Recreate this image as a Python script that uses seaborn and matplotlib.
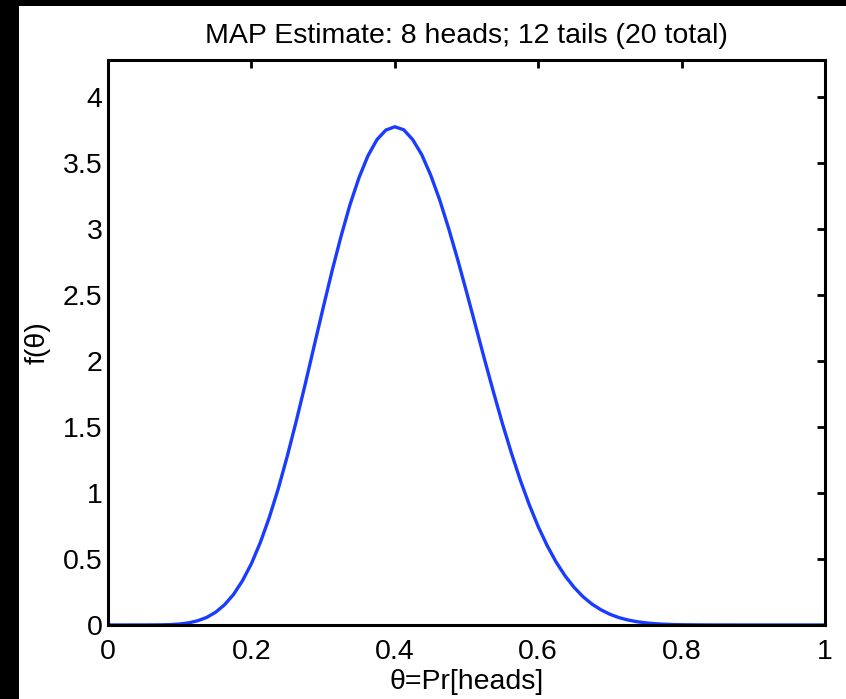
import pandas as pd
import seaborn as sns
import matplotlib.pyplot as plt
from matplotlib.patches import Rectangle

# values
theta = [0.0, 0.025, 0.05, 0.075, 0.0875, 0.1, 0.1125, 0.125, 0.1375, 0.15, 0.1625,
         0.175, 0.1875, 0.2, 0.2125, 0.225, 0.2375, 0.25, 0.2625, 0.275, 0.2875,
         0.3, 0.3125, 0.325, 0.3375, 0.35, 0.3625, 0.375, 0.3875, 0.4, 0.4125,
         0.425, 0.4375, 0.45, 0.4625, 0.475, 0.4875, 0.5, 0.5125, 0.525, 0.5375,
         0.55, 0.5625, 0.575, 0.5875, 0.6, 0.6125, 0.625, 0.6375, 0.65, 0.6625,
         0.675, 0.6875, 0.7, 0.7125, 0.725, 0.7375, 0.75, 0.7625, 0.775, 0.7875,
         0.8, 0.825, 0.85, 0.875, 0.9, 0.925, 0.95, 0.975, 1.0]
density = [0.0, 0.0, 0.0001, 0.001, 0.003, 0.0075, 0.016, 0.032, 0.057, 0.096, 0.153,
           0.231, 0.335, 0.465, 0.626, 0.816, 1.034, 1.279, 1.544, 1.824, 2.114,
           2.402, 2.683, 2.945, 3.184, 3.388, 3.554, 3.676, 3.749, 3.774, 3.751,
           3.676, 3.563, 3.408, 3.221, 3.005, 2.771, 2.523, 2.269, 2.014, 1.766,
           1.527, 1.304, 1.097, 0.911, 0.745, 0.601, 0.476, 0.372, 0.285, 0.214,
           0.158, 0.115, 0.081, 0.056, 0.038, 0.025, 0.016, 0.0097, 0.0058, 0.0033,
           0.0018, 0.0005, 0.0001, 0.0, 0.0, 0.0, 0.0, 0.0, 0.0]
xticks = [0, 0.2, 0.4, 0.6, 0.8, 1]
yticks = [0, 0.5, 1, 1.5, 2, 2.5, 3, 3.5, 4]

df = pd.DataFrame({"theta": theta, "f": density})

sns.set_style("white")
plt.rcParams['font.family'] = ['Liberation Sans', 'DejaVu Sans']
plt.rcParams['text.color'] = 'black'
plt.rcParams['axes.labelcolor'] = 'black'

fig = plt.figure(figsize=(8.46, 6.99), dpi=100, facecolor="black")
fig.patches.append(Rectangle((19 / 846, 0), 1, 1 - 6 / 699, transform=fig.transFigure,
                             facecolor="white", edgecolor="none", zorder=-10))
ax = fig.add_axes([0.1277, 0.1059, 0.8475, 0.8083])

sns.lineplot(data=df, x="theta", y="f", ax=ax, color="#1a3cff", linewidth=2.4)

ax.set_xlim(0, 1)
ax.set_ylim(0, 4.28)
ax.set_xticks(xticks)
ax.set_xticklabels(["0", "0.2", "0.4", "0.6", "0.8", "1"])
ax.set_yticks(yticks)
ax.set_yticklabels(["0", "0.5", "1", "1.5", "2", "2.5", "3", "3.5", "4"])
ax.tick_params(direction="in", length=6, width=2, labelsize=20.5, top=True, right=True,
               colors="black", pad=4)
ax.tick_params(axis="x", pad=10)
for s in ax.spines.values():
    s.set_visible(True)
    s.set_linewidth(2.2)
    s.set_color("black")

ax.set_title("MAP Estimate: 8 heads; 12 tails (20 total)", fontsize=20.5, pad=12, color="black")
ax.set_xlabel("θ=Pr[heads]", fontsize=20.5, labelpad=3)
ax.set_ylabel("f(θ)", fontsize=20.5, labelpad=9)

fig.savefig("out.png", dpi=100, facecolor=fig.get_facecolor())
